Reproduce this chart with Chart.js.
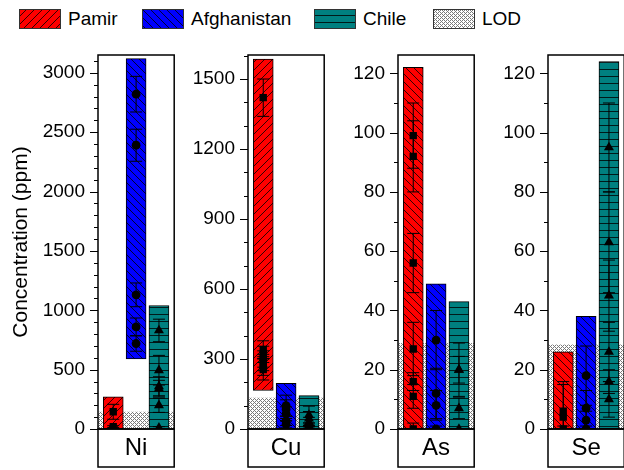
<!DOCTYPE html>
<html>
<head>
<meta charset="utf-8">
<script src="https://cdn.jsdelivr.net/npm/chart.js@4.4.0/dist/chart.umd.min.js"></script>
<style>
  html, body { margin: 0; padding: 0; background: #fff; }
  body { width: 624px; height: 470px; overflow: hidden; position: relative; font-family: "Liberation Sans", Arial, sans-serif; }
  canvas.panel { position: absolute; top: 0; }
  .item { position: absolute; top: 9px; height: 20px; display: flex; align-items: center; font-size: 19px; color: #000; white-space: nowrap; }
  .item canvas { width: 42px; height: 20px; margin-right: 7px; }
</style>
</head>
<body>
<script>
// categories
const elements = ["Ni", "Cu", "As", "Se"];
const sources = ["Pamir", "Afghanistan", "Chile"];

// observed range per source (Pamir, Afghanistan, Chile), ppm
const niRange = [[0, 270], [590, 3120], [0, 1040]];
const cuRange = [[165, 1585], [0, 196], [0, 143]];
const asRange = [[0, 122], [0, 49], [0, 43]];
const seRange = [[0, 26], [0, 38], [0, 124]];

// limit of detection
const lodValues = [145, 134, 29, 28.5];

// individual samples and their errors
const niPamir = [145, 20], niPamirErr = [63, 8];
const niAfghan = [2820, 2390, 1130, 860, 720], niAfghanErr = [150, 135, 100, 75, 65];
const niChile = [830, 495, 360, 340, 200, 10], niChileErr = [95, 125, 80, 70, 60, 10];

const cuPamir = [1420, 340, 320, 300, 285, 270, 255], cuPamirErr = [80, 38, 35, 35, 35, 40, 45];
const cuAfghan = [100, 85, 65, 35, 20], cuAfghanErr = [45, 40, 30, 20, 15];
const cuChile = [60, 45, 30, 15], cuChileErr = [38, 30, 20, 12];

const asPamir = [99, 92, 56, 27, 16, 11, 0], asPamirErr = [11, 12, 10, 9, 3, 4, 2];
const asAfghan = [30, 12, 8, 0], asAfghanErr = [10, 8.5, 5, 1];
const asChile = [20, 20, 7, 0], asChileErr = [9, 4.5, 3.5, 0];

const sePamir = [6, 4, 0], sePamirErr = [10, 11, 1];
const seAfghan = [18, 7, 3, 0], seAfghanErr = [10, 6, 3, 0];
const seChile = [95, 63, 45, 26, 16, 10], seChileErr = [15, 17, 12, 10, 4, 6];

// y axes: tick labels and minor tick spacing
const niTicks = [0, 500, 1000, 1500, 2000, 2500, 3000];
const cuTicks = [0, 300, 600, 900, 1200, 1500];
const asTicks = [0, 20, 40, 60, 80, 100, 120];
const seTicks = [0, 20, 40, 60, 80, 100, 120];
const yMax = [3150, 1603, 126.2, 126.2];
const yMinor = [100, 100, 10, 10];

// layout
const canvasLeft = [0, 180, 330, 480];
const canvasWidth = [180, 150, 150, 150];
const axisWidth = [98, 68, 68, 68];
const rightPad = [3, 4, 4, 4];
const pamirHatch = ["/", "/", "\\", "\\"];
const markers = ["rect", "circle", "triangle"];
const markerSize = [5.2, 4.4, 5.8];

Chart.defaults.font.family = '"Liberation Sans", Arial, sans-serif';
Chart.defaults.color = "#000";

function makePattern(color, kind) {
  const c = document.createElement("canvas");
  const s = kind === "lod" ? 4 : kind === "h" ? 7 : 8;
  c.width = s;
  c.height = s;
  const g = c.getContext("2d");
  g.fillStyle = color;
  g.fillRect(0, 0, s, s);
  if (kind === "lod") {
    g.fillStyle = "#7a7a7a";
    [[0, 0], [1, 1], [2, 2], [3, 3], [3, 1], [1, 3]].forEach((p) => g.fillRect(p[0], p[1], 1, 1));
    return g.createPattern(c, "repeat");
  }
  g.strokeStyle = "#000";
  g.lineWidth = 0.8;
  g.beginPath();
  if (kind === "/") {
    g.moveTo(-1, s + 1); g.lineTo(s + 1, -1);
    g.moveTo(-1, 1); g.lineTo(1, -1);
    g.moveTo(s - 1, s + 1); g.lineTo(s + 1, s - 1);
  } else if (kind === "\\") {
    g.moveTo(-1, -1); g.lineTo(s + 1, s + 1);
    g.moveTo(s - 1, -1); g.lineTo(s + 1, 1);
    g.moveTo(-1, s - 1); g.lineTo(1, s + 1);
  } else {
    g.moveTo(0, s - 0.5); g.lineTo(s, s - 0.5);
  }
  g.stroke();
  return g.createPattern(c, "repeat");
}

const lodPattern = makePattern("#ffffff", "lod");

// legend
const legendItems = [
  { label: "Pamir", left: 19, fill: makePattern("#ff0000", "/") },
  { label: "Afghanistan", left: 142, fill: makePattern("#0000ff", "\\") },
  { label: "Chile", left: 314, fill: makePattern("#008080", "h") },
  { label: "LOD", left: 433, fill: lodPattern },
];
legendItems.forEach((it) => {
  const div = document.createElement("div");
  div.className = "item";
  div.style.left = it.left + "px";
  const sw = document.createElement("canvas");
  sw.width = 42;
  sw.height = 20;
  const g = sw.getContext("2d");
  g.fillStyle = it.fill;
  g.fillRect(0, 0, 42, 20);
  g.strokeStyle = "#333";
  g.lineWidth = 1;
  g.strokeRect(0.5, 0.5, 41, 19);
  div.appendChild(sw);
  div.appendChild(document.createTextNode(it.label));
  document.body.appendChild(div);
});

const panelDecor = {
  id: "panelDecor",
  beforeDatasetsDraw(chart, args, opts) {
    const { ctx, chartArea: a, scales: { y } } = chart;
    const top = y.getPixelForValue(opts.lod);
    ctx.save();
    ctx.fillStyle = lodPattern;
    ctx.fillRect(a.left, top, a.right - a.left, y.getPixelForValue(0) - top);
    ctx.restore();
  },
  afterDatasetsDraw(chart) {
    const { ctx, scales: { y } } = chart;
    ctx.save();
    ctx.strokeStyle = "#000";
    ctx.lineWidth = 1;
    chart.data.datasets.forEach((ds, i) => {
      if (!ds.errors) return;
      chart.getDatasetMeta(i).data.forEach((pt, j) => {
        const v = ds.data[j].y;
        const e = ds.errors[j];
        if (!e) return;
        const y1 = y.getPixelForValue(v + e);
        const y2 = y.getPixelForValue(Math.max(v - e, 0));
        ctx.beginPath();
        ctx.moveTo(pt.x, y1); ctx.lineTo(pt.x, y2);
        ctx.moveTo(pt.x - 6, y1); ctx.lineTo(pt.x + 6, y1);
        if (v - e > 0) { ctx.moveTo(pt.x - 6, y2); ctx.lineTo(pt.x + 6, y2); }
        ctx.stroke();
      });
    });
    ctx.restore();
  },
  afterDraw(chart, args, opts) {
    const { ctx, chartArea: a, scales: { y } } = chart;
    const majors = y.ticks.map((t) => t.value);
    ctx.save();
    ctx.strokeStyle = "#000";
    ctx.lineWidth = 1.2;
    // minor + major ticks
    ctx.beginPath();
    for (let v = 0; v <= y.max + 1e-6; v += opts.minor) {
      const py = Math.round(y.getPixelForValue(v)) + 0.5;
      const major = majors.some((m) => Math.abs(m - v) < 1e-6);
      ctx.moveTo(a.left - (major ? 8 : 4), py);
      ctx.lineTo(a.left, py);
    }
    ctx.stroke();
    ctx.lineWidth = 1.5;
    ctx.strokeRect(a.left, a.top, a.right - a.left, a.bottom - a.top);
    ctx.strokeRect(a.left, a.bottom, a.right - a.left, 38);
    ctx.restore();
  },
};

function buildPanel(i, ranges, points, errs, tickVals) {
  const canvas = document.createElement("canvas");
  canvas.className = "panel";
  canvas.width = canvasWidth[i];
  canvas.height = 470;
  canvas.style.left = canvasLeft[i] + "px";
  document.body.appendChild(canvas);

  const fills = [
    makePattern("#ff0000", pamirHatch[i]),
    makePattern("#0000ff", "\\"),
    makePattern("#008080", "h"),
  ];
  const datasets = [
    {
      type: "bar",
      label: "range",
      data: ranges.map((r, k) => ({ x: k, y: r })),
      backgroundColor: fills,
      borderColor: "#000",
      borderWidth: 1,
      borderSkipped: false,
      barThickness: 20,
      order: 2,
    },
  ];
  points.forEach((vals, k) => {
    datasets.push({
      type: "scatter",
      label: sources[k],
      data: vals.map((v) => ({ x: k, y: v })),
      errors: errs[k],
      pointStyle: markers[k],
      pointRadius: markerSize[k],
      backgroundColor: "#000",
      borderColor: "#000",
      borderWidth: 0,
      order: 1,
    });
  });

  new Chart(canvas, {
    type: "bar",
    data: { datasets },
    options: {
      responsive: false,
      animation: false,
      layout: { padding: { top: 55, bottom: 3, left: 0, right: rightPad[i] } },
      plugins: {
        legend: { display: false },
        tooltip: { enabled: false },
        panelDecor: { lod: lodValues[i], minor: yMinor[i] },
      },
      scales: {
        x: {
          type: "linear",
          min: -0.667,
          max: 2.667,
          offset: false,
          grid: { display: false, drawTicks: false },
          border: { display: false },
          ticks: { display: false },
          title: { display: true, text: elements[i], font: { size: 24 }, padding: { top: 5, bottom: 4 } },
          afterFit: (s) => { s.height = 38; },
        },
        y: {
          type: "linear",
          min: 0,
          max: yMax[i],
          grid: { display: false, drawTicks: false },
          border: { display: false },
          ticks: { padding: 13, font: { size: 19 }, color: "#000", callback: (v) => String(v) },
          afterBuildTicks: (s) => { s.ticks = tickVals.map((v) => ({ value: v })); },
          title: {
            display: i === 0,
            text: "Concentration (ppm)",
            font: { size: 21 },
            padding: { top: 9, bottom: 0 },
          },
          afterFit: (s) => { s.width = axisWidth[i]; },
        },
      },
    },
    plugins: [panelDecor],
  });
}

buildPanel(0, niRange, [niPamir, niAfghan, niChile], [niPamirErr, niAfghanErr, niChileErr], niTicks);
buildPanel(1, cuRange, [cuPamir, cuAfghan, cuChile], [cuPamirErr, cuAfghanErr, cuChileErr], cuTicks);
buildPanel(2, asRange, [asPamir, asAfghan, asChile], [asPamirErr, asAfghanErr, asChileErr], asTicks);
buildPanel(3, seRange, [sePamir, seAfghan, seChile], [sePamirErr, seAfghanErr, seChileErr], seTicks);
</script>
</body>
</html>
